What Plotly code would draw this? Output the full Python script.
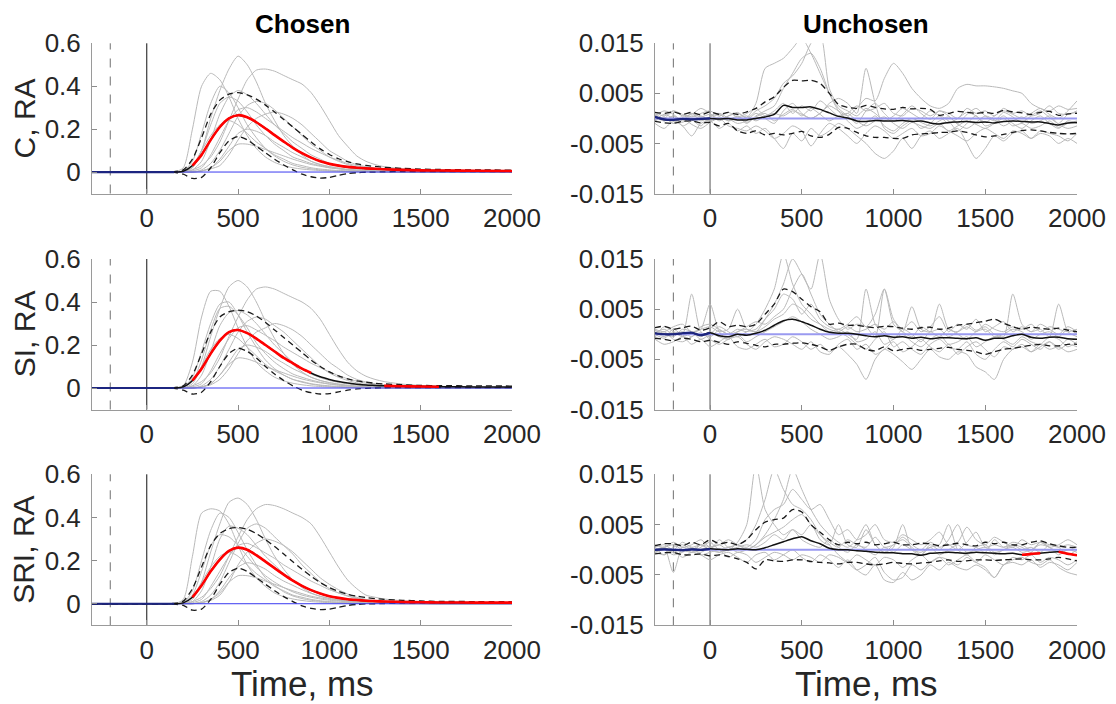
import plotly.graph_objects as go

# ---------------- time grids (ms) ----------------
T_CHOSEN = [-300, -200, -100, 0, 100, 150] + list(range(200, 1301, 50)) + [1400, 1500, 1600, 1800, 2000]
T_UNCHOSEN = list(range(-300, 2001, 50))
EVENT_TIMES = [-200, 0]          # dashed cue line, solid onset line
X_TICKS = [0, 500, 1000, 1500, 2000]
Y_TICKS_CH = [0, 0.2, 0.4, 0.6]
Y_TICKS_UN = [-0.015, -0.005, 0.005, 0.015]
Y_TICKTEXT_UN = ["-0.015", "-0.005", "0.005", "0.015"]
ROW_LABELS = ["C, RA", "SI, RA", "SRI, RA"]
COL_TITLES = ["Chosen", "Unchosen"]
UN_SCALE = 1e-3                  # unchosen arrays are written in units of 1e-3

# ---------------- Chosen, C ----------------
C_CH_MEAN = [0,0,0,0,0,0, 0.004,0.03,0.08,0.15,0.21,0.25, 0.265,0.255,0.232,0.203,0.172,0.142,
             0.113,0.088,0.067,0.05,0.038,0.03, 0.024,0.02,0.017,0.015,0.013, 0.01,0.008,0.007,0.006,0.005]
C_CH_UP = [0,0,0,0,0,0.002, 0.01,0.06,0.16,0.27,0.335,0.363, 0.37,0.36,0.34,0.312,0.28,0.245,
           0.21,0.175,0.14,0.108,0.082,0.062, 0.048,0.038,0.031,0.026,0.022, 0.017,0.014,0.012,0.01,0.009]
C_CH_LO = [0,0,0,0,0,-0.002, -0.01,-0.03,-0.025,0.02,0.09,0.145, 0.165,0.15,0.12,0.09,0.06,0.033,
           0.01,-0.01,-0.022,-0.028,-0.025,-0.015, -0.007,-0.003,-0.001,0,0.001, 0.002,0.002,0.002,0.002,0.002]
C_CH_SIG = [(250, 2000)]
C_CH_SUBJ = [
    [0,0,0,0,0,0, 0.02,0.2,0.4,0.46,0.43,0.35, 0.25,0.17,0.11,0.07,0.045,0.03, 0.02,0.014,0.01,0.007,0.005,0.004, 0.003,0.002,0.002,0.001,0.001, 0,0,0,0,0],
    [0,0,0,0,0,0, 0,0.02,0.1,0.25,0.38,0.48, 0.54,0.5,0.42,0.32,0.24,0.17, 0.12,0.08,0.05,0.035,0.025,0.018, 0.012,0.009,0.006,0.004,0.003, 0.002,0.001,0,0,0],
    [0,0,0,0,0,0, 0,0.01,0.03,0.07,0.14,0.24, 0.34,0.43,0.475,0.48,0.47,0.45, 0.43,0.41,0.37,0.31,0.24,0.17, 0.12,0.075,0.05,0.035,0.025, 0.015,0.01,0.007,0.004,0.003],
    [0,0,0,0,0,0, 0.005,0.05,0.18,0.32,0.4,0.37, 0.3,0.22,0.16,0.11,0.075,0.05, 0.033,0.022,0.015,0.01,0.007,0.005, 0.004,0.003,0.002,0.002,0.001, 0,0,0,0,0],
    [0,0,0,0,0,0, 0,0.01,0.05,0.15,0.27,0.35, 0.38,0.36,0.32,0.27,0.22,0.18, 0.14,0.11,0.08,0.06,0.04,0.03, 0.02,0.014,0.01,0.007,0.005, 0.003,0.002,0.001,0,0],
    [0,0,0,0,0,0, 0,0,0.01,0.04,0.1,0.18, 0.26,0.31,0.33,0.32,0.29,0.25, 0.21,0.17,0.13,0.1,0.07,0.05, 0.035,0.024,0.016,0.011,0.008, 0.004,0.002,0.001,0,0],
    [0,0,0,0,0,0, 0.003,0.03,0.1,0.17,0.22,0.24, 0.22,0.18,0.14,0.11,0.08,0.06, 0.04,0.03,0.02,0.014,0.01,0.007, 0.005,0.004,0.003,0.002,0.001, 0,0,0,0,0],
    [0,0,0,0,0,0, 0,0,0.005,0.02,0.06,0.12, 0.18,0.2,0.19,0.17,0.14,0.115, 0.09,0.07,0.05,0.035,0.025,0.018, 0.012,0.008,0.006,0.004,0.003, 0.002,0.001,0,0,0],
    [0,0,0,0,0,0, 0,0,0.005,0.02,0.05,0.1, 0.13,0.13,0.12,0.105,0.09,0.075, 0.06,0.047,0.035,0.027,0.02,0.015, 0.011,0.008,0.006,0.004,0.003, 0.002,0.001,0,0,0],
    [0,0,0,0,0,0, 0,0,0.005,0.015,0.03,0.08, 0.15,0.21,0.25,0.27,0.28,0.27, 0.25,0.22,0.18,0.14,0.1,0.075, 0.05,0.035,0.025,0.018,0.012, 0.006,0.003,0.002,0.001,0],
    [0,0,0,0,0,0, 0.005,0.02,0.1,0.22,0.32,0.35, 0.33,0.28,0.22,0.17,0.13,0.1, 0.07,0.055,0.04,0.03,0.02,0.015, 0.01,0.007,0.005,0.004,0.003, 0.002,0.001,0,0,0],
    [0,0,0,0,0,0, 0,0.005,0.02,0.08,0.16,0.24, 0.29,0.3,0.28,0.25,0.22,0.19, 0.16,0.135,0.11,0.09,0.07,0.055, 0.04,0.03,0.02,0.015,0.01, 0.006,0.004,0.003,0.002,0.001],
]

# ---------------- Chosen, SI ----------------
SI_CH_MEAN = [0,0,0,0,0,0, 0.005,0.035,0.09,0.16,0.22,0.26, 0.27,0.255,0.23,0.2,0.17,0.14,
              0.115,0.09,0.07,0.052,0.04,0.03, 0.023,0.018,0.014,0.012,0.01, 0.008,0.007,0.006,0.005,0.005]
SI_CH_UP = [0,0,0,0,0,0.002, 0.01,0.06,0.16,0.26,0.33,0.355, 0.362,0.355,0.335,0.305,0.27,0.235,
            0.2,0.165,0.13,0.1,0.075,0.056, 0.042,0.033,0.027,0.022,0.019, 0.015,0.012,0.011,0.01,0.009]
SI_CH_LO = [0,0,0,0,0,-0.002, -0.01,-0.028,-0.02,0.03,0.1,0.16, 0.185,0.17,0.14,0.1,0.065,0.035,
            0.01,-0.01,-0.022,-0.028,-0.026,-0.018, -0.01,-0.004,-0.002,0,0.001, 0.002,0.002,0.002,0.002,0.002]
SI_CH_SIG = [(250, 900), (1300, 1600)]
SI_CH_SUBJ = [
    [0,0,0,0,0,0, 0.01,0.12,0.33,0.45,0.45,0.38, 0.28,0.19,0.12,0.08,0.05,0.033, 0.022,0.015,0.01,0.007,0.005,0.004, 0.003,0.002,0.002,0.001,0.001, 0,0,0,0,0],
    [0,0,0,0,0,0, 0,0.02,0.1,0.24,0.37,0.47, 0.5,0.47,0.4,0.31,0.23,0.16, 0.11,0.075,0.05,0.035,0.025,0.018, 0.012,0.009,0.006,0.004,0.003, 0.002,0.001,0,0,0],
    [0,0,0,0,0,0, 0,0.01,0.03,0.07,0.14,0.24, 0.33,0.41,0.46,0.47,0.46,0.44, 0.42,0.4,0.37,0.32,0.25,0.18, 0.12,0.08,0.055,0.04,0.03, 0.018,0.012,0.008,0.005,0.003],
    [0,0,0,0,0,0, 0.005,0.05,0.17,0.3,0.39,0.4, 0.34,0.26,0.19,0.13,0.09,0.06, 0.04,0.027,0.018,0.012,0.008,0.006, 0.004,0.003,0.002,0.002,0.001, 0,0,0,0,0],
    [0,0,0,0,0,0, 0,0.01,0.06,0.17,0.29,0.35, 0.36,0.34,0.3,0.25,0.2,0.16, 0.12,0.09,0.065,0.048,0.035,0.026, 0.019,0.014,0.01,0.007,0.005, 0.003,0.002,0.001,0,0],
    [0,0,0,0,0,0, 0,0,0.01,0.04,0.1,0.18, 0.26,0.31,0.33,0.32,0.29,0.26, 0.22,0.18,0.14,0.1,0.07,0.05, 0.035,0.024,0.016,0.011,0.008, 0.004,0.002,0.001,0,0],
    [0,0,0,0,0,0, 0.003,0.03,0.1,0.18,0.23,0.25, 0.23,0.19,0.15,0.11,0.08,0.06, 0.04,0.03,0.02,0.014,0.01,0.007, 0.005,0.004,0.003,0.002,0.001, 0,0,0,0,0],
    [0,0,0,0,0,0, 0,0,0.005,0.02,0.06,0.12, 0.18,0.2,0.19,0.17,0.14,0.115, 0.09,0.07,0.05,0.035,0.025,0.018, 0.012,0.008,0.006,0.004,0.003, 0.002,0.001,0,0,0],
    [0,0,0,0,0,0, 0,0,0.005,0.02,0.06,0.11, 0.14,0.135,0.12,0.1,0.085,0.07, 0.055,0.042,0.032,0.024,0.018,0.013, 0.01,0.007,0.005,0.004,0.003, 0.002,0.001,0,0,0],
    [0,0,0,0,0,0, 0,0,0.005,0.015,0.04,0.09, 0.16,0.22,0.26,0.28,0.3,0.29, 0.27,0.24,0.2,0.16,0.12,0.09, 0.06,0.04,0.028,0.02,0.014, 0.007,0.004,0.002,0.001,0],
    [0,0,0,0,0,0, 0.005,0.03,0.13,0.27,0.37,0.38, 0.34,0.28,0.21,0.16,0.12,0.09, 0.065,0.05,0.037,0.027,0.019,0.014, 0.01,0.007,0.005,0.004,0.003, 0.002,0.001,0,0,0],
    [0,0,0,0,0,0, 0,0.005,0.02,0.08,0.16,0.23, 0.28,0.29,0.27,0.245,0.22,0.19, 0.165,0.14,0.115,0.095,0.075,0.058, 0.043,0.032,0.022,0.016,0.011, 0.006,0.004,0.003,0.002,0.001],
]

# ---------------- Chosen, SRI ----------------
SRI_CH_MEAN = [0,0,0,0,0,0, 0.004,0.03,0.085,0.15,0.205,0.245, 0.26,0.25,0.225,0.195,0.165,0.135,
               0.107,0.083,0.063,0.047,0.035,0.027, 0.021,0.017,0.014,0.012,0.01, 0.008,0.007,0.006,0.005,0.005]
SRI_CH_UP = [0,0,0,0,0,0.002, 0.012,0.07,0.17,0.27,0.325,0.348, 0.353,0.345,0.325,0.297,0.265,0.23,
             0.195,0.16,0.127,0.098,0.075,0.057, 0.044,0.035,0.029,0.024,0.02, 0.016,0.013,0.011,0.01,0.009]
SRI_CH_LO = [0,0,0,0,0,-0.002, -0.008,-0.03,-0.025,0.02,0.09,0.145, 0.165,0.15,0.12,0.09,0.06,0.033,
             0.01,-0.01,-0.022,-0.027,-0.025,-0.017, -0.008,-0.003,-0.001,0,0.001, 0.002,0.002,0.002,0.002,0.002]
SRI_CH_SIG = [(250, 2000)]
SRI_CH_SUBJ = [
    [0,0,0,0,0,0, 0.02,0.22,0.42,0.44,0.43,0.37, 0.27,0.18,0.12,0.08,0.05,0.033, 0.022,0.015,0.01,0.007,0.005,0.004, 0.003,0.002,0.002,0.001,0.001, 0,0,0,0,0],
    [0,0,0,0,0,0, 0,0.02,0.1,0.24,0.37,0.47, 0.49,0.46,0.39,0.3,0.22,0.16, 0.11,0.075,0.05,0.035,0.025,0.018, 0.012,0.009,0.006,0.004,0.003, 0.002,0.001,0,0,0],
    [0,0,0,0,0,0, 0,0.01,0.03,0.07,0.13,0.22, 0.31,0.39,0.44,0.46,0.455,0.44, 0.42,0.4,0.37,0.31,0.24,0.17, 0.11,0.07,0.04,0.03,0.022, 0.014,0.01,0.007,0.005,0.003],
    [0,0,0,0,0,0, 0.005,0.06,0.2,0.34,0.42,0.4, 0.33,0.25,0.18,0.12,0.085,0.055, 0.036,0.024,0.016,0.011,0.008,0.006, 0.004,0.003,0.002,0.002,0.001, 0,0,0,0,0],
    [0,0,0,0,0,0, 0,0.01,0.06,0.17,0.3,0.36, 0.35,0.32,0.27,0.22,0.18,0.14, 0.11,0.08,0.06,0.045,0.033,0.024, 0.018,0.013,0.009,0.007,0.005, 0.003,0.002,0.001,0,0],
    [0,0,0,0,0,0, 0,0,0.01,0.04,0.1,0.19, 0.28,0.35,0.37,0.35,0.31,0.27, 0.23,0.18,0.14,0.1,0.07,0.05, 0.035,0.024,0.016,0.011,0.008, 0.004,0.002,0.001,0,0],
    [0,0,0,0,0,0, 0.003,0.03,0.1,0.17,0.22,0.24, 0.22,0.18,0.14,0.11,0.08,0.06, 0.04,0.03,0.02,0.014,0.01,0.007, 0.005,0.004,0.003,0.002,0.001, 0,0,0,0,0],
    [0,0,0,0,0,0, 0,0,0.005,0.02,0.06,0.12, 0.17,0.19,0.18,0.16,0.13,0.105, 0.085,0.065,0.048,0.034,0.024,0.017, 0.012,0.008,0.006,0.004,0.003, 0.002,0.001,0,0,0],
    [0,0,0,0,0,0, 0,0,0.005,0.02,0.05,0.1, 0.13,0.13,0.12,0.105,0.09,0.075, 0.06,0.047,0.035,0.027,0.02,0.015, 0.011,0.008,0.006,0.004,0.003, 0.002,0.001,0,0,0],
    [0,0,0,0,0,0, 0,0,0.005,0.015,0.04,0.1, 0.18,0.24,0.28,0.3,0.29,0.27, 0.24,0.2,0.16,0.12,0.09,0.065, 0.045,0.03,0.02,0.014,0.01, 0.005,0.003,0.002,0.001,0],
    [0,0,0,0,0,0, 0.005,0.04,0.15,0.27,0.32,0.31, 0.27,0.22,0.17,0.13,0.1,0.075, 0.055,0.04,0.03,0.022,0.016,0.012, 0.009,0.006,0.005,0.004,0.003, 0.002,0.001,0,0,0],
    [0,0,0,0,0,0, 0,0.005,0.02,0.08,0.15,0.22, 0.27,0.28,0.26,0.235,0.21,0.18, 0.155,0.13,0.105,0.085,0.065,0.05, 0.037,0.027,0.019,0.014,0.01, 0.006,0.004,0.003,0.002,0.001],
]

# ---------------- Unchosen, C (x 1e-3) ----------------
C_UN_MEAN = [0.3,-0.2,-0.3,-0.1,-0.2,-0.1,0.0,-0.1,0.0,-0.3,
             -0.3,0.0,0.3,0.8,2.6,2.2,2.2,2.3,1.8,1.1,
             0.4,0.1,-0.5,-0.6,-0.4,-0.5,-0.5,-0.4,-0.6,-0.5,
             -0.9,-1.1,-0.8,-0.7,-0.6,-0.8,-0.7,-0.9,-0.6,-0.5,
             -0.6,-0.7,-0.7,-1.0,-1.3,-0.9,-0.8]
C_UN_UP = [1.2,1.0,1.3,0.8,1.2,0.7,1.3,0.8,1.2,0.8,
           1.3,2.0,3.3,4.3,6.2,7.6,7.5,7.6,7.0,5.0,
           2.8,2.2,2.0,2.6,2.2,1.9,1.8,2.2,1.9,2.0,
           1.8,0.6,1.0,1.4,1.2,1.0,1.2,1.0,1.6,1.3,
           1.1,0.8,1.2,1.4,0.6,0.9,1.0]
C_UN_LO = [-0.6,-0.9,-1.0,-0.6,-0.5,-0.9,-0.8,-1.5,-1.0,-2.5,
           -3.0,-2.5,-3.3,-3.0,-3.3,-3.0,-2.6,-3.5,-3.8,-3.2,
           -1.8,-2.0,-2.8,-3.5,-3.8,-3.8,-4.0,-4.0,-3.3,-3.1,
           -3.0,-2.8,-2.8,-2.5,-2.8,-3.3,-3.7,-3.5,-3.2,-2.8,
           -2.4,-2.3,-2.5,-2.8,-3.0,-3.1,-3.0]
C_UN_SIG = []
C_UN_SUBJ = [
    [0.5,1.5,0.8,-0.5,1.0,0.3,0.8,-0.3,0.5,1.0, 0.2,3.0,10.0,11.0,12.0,14.0,16.0,13.0,9.0,5.0,
     2.0,0.5,-1.0,1.5,3.0,1.0,-0.5,0.8,2.5,1.0, -0.2,1.5,0.5,-1.0,0.8,2.0,0.5,-0.5,1.2,0.3, -0.8,0.5,1.5,0.2,-1.0,0.8,1.2],
    [-0.5,0.3,-1.0,0.5,-0.2,-1.5,0.5,1.0,-0.5,0.3, -1.0,0.5,1.5,2.5,6.0,9.0,12.0,13.0,10.0,5.0,
     1.5,-0.5,-2.0,-1.0,0.5,-1.5,-2.5,-1.0,0.0,-0.8, -1.5,-0.5,0.3,-1.2,-2.0,-0.8,0.5,-0.3,-1.5,-0.5, 0.3,-1.0,-0.5,0.5,-1.2,-2.0,-1.5],
    [1.0,0.0,1.5,0.5,0.8,2.0,1.0,-0.5,0.5,1.2, 0.0,1.5,2.5,4.0,7.0,8.5,11.0,15.0,17.0,6.0,
     2.5,1.5,0.5,2.0,1.0,-0.5,0.5,2.0,1.0,0.0, 1.5,0.5,-1.0,0.0,1.2,0.5,-0.8,0.5,1.5,0.8, 0.0,1.0,2.0,0.8,0.0,1.5,3.5],
    [-0.3,0.8,0.0,-0.8,0.5,0.0,-0.5,0.3,-0.5,0.0, 0.5,-0.5,0.5,1.0,0.5,1.5,0.8,0.0,1.0,2.5,
     1.5,0.5,2.0,4.0,3.5,8.0,11.0,9.0,6.0,4.0, 2.5,2.0,3.0,6.0,6.8,6.5,6.5,6.3,6.0,5.5, 5.0,3.0,2.0,1.5,2.5,1.8,2.0],
    [0.8,-0.5,0.5,-1.5,-0.5,0.5,-0.3,1.0,0.0,-1.0, -0.5,1.0,0.0,-1.0,1.5,3.0,1.0,0.0,1.0,3.0,
     4.0,3.0,1.0,10.0,3.0,-2.0,-3.0,-1.5,-0.5,-2.0, -1.0,0.5,-0.5,-2.5,-1.0,0.5,-1.5,-0.8,0.5,-1.0, -2.0,-0.5,0.5,-1.0,-2.0,-0.5,-1.0],
    [-1.0,-2.0,-0.5,-1.5,-3.5,-1.0,-0.5,-2.0,-1.0,-2.5, -1.5,-3.0,-2.0,-4.0,-6.0,-3.0,-4.5,-2.0,-3.5,-2.5,
     -1.0,-2.0,-3.5,-5.0,-7.0,-8.0,-6.5,-4.0,-6.0,-3.5, -2.5,-4.0,-3.0,-2.0,-5.0,-8.0,-6.0,-3.5,-4.5,-3.0, -2.5,-4.0,-3.0,-3.5,-5.0,-4.0,-5.0],
    [0.3,-0.5,0.5,-0.3,1.0,-0.5,0.3,0.8,-0.3,0.5, -0.8,0.3,1.0,-0.5,0.8,1.8,0.5,2.0,0.8,-0.5,
     0.5,1.0,-0.5,-1.5,-0.5,0.3,-1.0,-2.0,-0.8,-1.5, -2.0,-1.0,-2.5,-1.5,-0.5,-1.2,-2.0,-1.0,0.0,-1.5, -1.0,-2.0,-1.5,-0.5,-1.8,-1.0,-0.5],
    [-0.5,0.2,-1.0,0.0,-1.2,-2.0,-0.8,0.0,-1.5,-2.0, -2.5,-1.5,-2.5,-4.0,-3.0,-1.5,-2.5,-5.5,-3.0,-1.0,
     -2.0,-3.5,-5.0,-3.0,-1.5,-2.5,-4.0,-3.0,-2.0,-3.5, -3.0,-1.5,-2.5,-3.5,-4.5,-3.0,-2.0,-3.0,-4.0,-2.5, -3.0,-4.0,-2.5,-3.0,-3.5,-4.5,-3.0],
    [1.2,0.5,1.5,0.8,0.3,1.0,1.5,0.5,1.2,0.3, 1.0,2.0,0.5,1.5,3.0,1.0,2.5,1.5,3.5,2.0,
     0.5,1.0,2.5,1.5,2.0,3.0,1.0,0.5,2.0,1.5, 0.5,1.5,1.0,0.0,2.0,1.0,1.5,0.5,2.0,1.0, 1.5,0.5,1.0,2.5,1.0,0.8,1.5],
]

# ---------------- Unchosen, SI (x 1e-3) ----------------
SI_UN_MEAN = [0.2,0.0,0.0,0.2,0.3,-0.2,0.3,-0.3,-0.5,0.0,
              -0.2,0.2,0.8,1.8,2.7,3.0,2.5,1.8,1.0,0.4,
              0.2,0.2,0.0,-0.3,-0.5,-0.3,-0.6,-0.5,-0.8,-0.6,
              -0.9,-0.7,-0.7,-0.8,-0.9,-0.7,-1.2,-0.8,-0.8,-0.3,
              0.0,-0.6,-0.8,-0.6,-0.6,-0.9,-1.0]
SI_UN_UP = [1.3,1.6,1.0,1.3,1.6,0.8,1.3,2.5,1.5,1.8,
            1.5,2.0,4.0,6.0,9.0,8.5,7.0,5.5,4.5,2.0,
            2.2,1.8,1.8,1.5,1.3,1.6,1.5,1.2,1.0,1.3,
            1.4,1.0,1.2,1.8,2.0,2.3,2.6,3.0,2.2,1.5,
            1.0,1.4,1.2,1.0,1.2,0.8,0.5]
SI_UN_LO = [-0.8,-1.0,-1.3,-0.8,-1.0,-1.5,-1.2,-1.6,-2.0,-1.5,
            -1.8,-2.2,-2.5,-2.0,-2.0,-1.8,-1.7,-2.0,-2.5,-3.2,
            -2.5,-2.0,-2.0,-3.0,-3.3,-2.5,-3.3,-3.0,-2.8,-3.2,
            -3.0,-2.8,-2.6,-3.0,-3.2,-3.5,-4.0,-3.5,-3.0,-2.8,
            -2.5,-2.2,-2.0,-2.3,-2.3,-2.0,-2.0]
SI_UN_SIG = []
SI_UN_SUBJ = [
    [0.5,-0.5,1.0,0.0,8.0,0.5,-0.5,0.8,0.0,1.0, 0.5,2.0,5.0,9.0,16.0,10.0,6.0,4.0,2.0,0.5,
     1.0,0.0,-1.0,9.0,2.0,0.0,-1.0,1.0,0.0,-1.5, 0.5,-0.5,1.0,0.0,-1.0,0.5,1.0,-0.5,0.0,1.0, 0.5,-1.0,0.0,0.5,-0.5,1.0,0.0],
    [-0.5,1.5,0.5,-0.5,0.3,1.0,6.0,0.5,-1.0,0.5, 1.0,0.5,3.0,6.0,10.0,15.0,12.0,9.0,16.0,7.0,
     3.0,1.0,2.0,1.5,-0.5,9.0,2.0,0.5,-0.5,1.5, 0.5,1.0,-0.5,0.5,2.0,0.8,1.5,0.0,-0.5,8.0, 2.0,0.5,1.0,-0.5,6.0,0.5,-0.5],
    [-1.0,-2.0,-1.5,-0.5,-2.0,-1.0,-2.5,-1.5,-0.5,-2.5, -3.0,-2.0,-1.0,-2.5,-2.0,-0.5,-1.5,-3.0,-2.0,-3.5,
     -2.5,-4.0,-6.0,-9.0,-5.0,-3.0,-4.0,-5.5,-7.0,-5.0, -3.0,-4.5,-5.0,-3.5,-4.0,-6.5,-7.5,-9.0,-5.0,-3.0, -2.5,-3.5,-2.0,-3.0,-2.5,-3.5,-3.0],
    [1.0,0.5,1.5,2.0,0.5,1.0,1.5,0.5,1.0,5.0, 1.0,0.5,1.5,3.0,4.0,6.0,5.0,3.0,2.0,1.0,
     0.5,1.5,0.5,1.0,2.0,1.0,2.5,0.5,5.5,1.0, 0.5,6.0,1.0,0.5,1.5,0.5,2.0,1.0,0.5,1.5, 1.0,2.0,0.5,1.5,1.0,0.5,1.0],
    [0.0,-0.8,0.5,-0.3,0.3,-0.5,0.5,-0.5,-1.0,0.0, -1.5,-0.5,0.5,1.5,2.5,3.5,2.5,1.0,0.0,-1.0,
     -0.5,0.5,-1.5,-1.0,0.5,-2.0,-1.0,0.0,-1.5,-2.5, -1.0,0.0,-2.0,-1.5,-0.5,-2.5,-1.5,-0.5,-1.0,-2.0, -0.5,-1.5,-2.0,-0.5,-1.0,-2.5,-1.5],
    [-0.5,0.5,-1.0,-1.5,-0.5,0.3,-1.0,-2.0,-1.0,-0.5, -2.0,-3.0,-1.5,-0.5,-1.0,-2.0,-3.0,-1.5,-3.5,-4.0,
     -2.0,-1.0,-3.0,-2.0,-4.0,-3.0,-1.5,-3.5,-2.5,-1.0, -2.5,-3.5,-2.0,-4.0,-2.5,-1.5,-3.0,-4.5,-2.5,-3.0, -2.0,-3.5,-2.5,-1.5,-3.0,-2.0,-2.5],
    [0.8,0.0,-0.5,1.0,0.5,-1.0,0.0,1.5,0.5,-0.5, 0.5,1.0,3.0,5.0,8.0,7.0,4.0,6.0,3.0,1.5,
     1.0,2.0,3.5,1.5,4.0,9.0,3.0,1.0,2.5,0.5, 1.5,3.5,0.5,2.0,1.0,3.0,0.5,1.5,2.5,0.5, 1.5,0.5,2.0,1.0,0.0,1.5,0.5],
    [0.3,1.0,0.0,0.5,-0.5,1.5,2.0,1.0,0.0,0.5, 1.5,2.5,2.0,3.5,5.0,9.0,12.0,8.0,4.0,2.0,
     0.5,-0.5,-2.0,-3.0,-1.0,0.5,-2.5,-1.5,-3.0,-4.0, -2.0,-1.0,-2.5,-3.0,-1.5,-4.0,-5.0,-3.0,-1.5,-2.5, -1.0,-2.0,-3.0,-1.5,-2.5,-1.0,-2.0],
]

# ---------------- Unchosen, SRI (x 1e-3) ----------------
SRI_UN_MEAN = [0.0,0.1,0.0,-0.1,0.1,0.0,0.2,0.1,0.0,0.2,
               0.1,0.0,0.4,1.0,1.6,2.2,2.6,1.8,1.2,0.3,
               0.0,0.0,-0.2,-0.3,-0.5,-0.6,-0.6,-0.8,-0.8,-1.1,
               -0.7,-0.6,-0.5,-0.6,-0.7,-0.5,-0.6,-0.7,-0.8,-0.7,
               -1.0,-0.8,-0.7,-0.5,-0.4,-0.8,-1.1]
SRI_UN_UP = [0.8,1.2,1.2,0.8,1.5,1.0,2.0,1.2,1.5,1.0,
             2.0,4.0,5.5,6.0,6.3,8.0,7.5,5.0,3.5,2.0,
             1.0,1.5,1.2,1.5,1.0,1.2,1.5,1.0,1.0,1.3,
             1.2,0.8,1.0,1.3,1.0,0.8,1.5,1.2,1.5,1.0,
             1.0,1.5,1.8,1.2,0.8,0.5,0.5]
SRI_UN_LO = [-0.8,-0.6,-0.5,-1.0,-1.0,-0.8,-1.2,-1.0,-1.3,-1.8,
             -2.5,-3.8,-2.0,-2.2,-2.3,-2.0,-2.0,-2.3,-2.5,-2.6,
             -2.8,-2.5,-2.5,-2.8,-3.0,-2.8,-2.5,-2.7,-2.8,-2.6,
             -2.5,-2.2,-2.0,-2.3,-2.2,-2.0,-2.0,-2.1,-2.0,-1.9,
             -1.8,-2.0,-2.0,-1.8,-1.5,-1.8,-2.2]
SRI_UN_SIG = [(1700, 1800), (1900, 2000)]
SRI_UN_SUBJ = [
    [0.5,-1.0,0.5,1.0,0.0,-0.5,0.5,1.0,0.0,1.5, 5.0,17.0,8.0,5.0,3.0,4.0,2.0,1.0,0.5,2.0,
     0.5,-0.5,1.0,0.0,-1.0,0.5,-0.5,1.0,0.0,-0.5, 0.5,-1.0,0.0,1.0,-0.5,0.0,0.5,-1.0,0.0,0.5, -0.5,0.0,1.0,0.5,-0.5,0.0,0.5],
    [-0.5,0.5,-4.5,0.5,-0.5,1.0,0.0,-0.5,0.5,1.0, 2.0,5.0,10.0,16.0,12.0,9.0,8.0,6.0,3.0,1.0,
     -1.0,-2.5,-4.0,-3.0,-1.5,-4.5,-6.0,-5.5,-3.0,-4.0, -2.5,-1.5,-3.0,-2.0,-1.0,-2.5,-3.5,-5.5,-3.0,-2.0, -1.5,-2.5,-3.0,-2.0,-3.5,-4.5,-5.0],
    [0.0,0.5,1.0,0.0,-0.5,0.5,1.5,0.0,0.5,-0.5, 0.0,1.0,3.0,6.0,10.0,16.0,12.0,8.0,5.0,3.0,
     1.5,0.5,2.0,5.0,1.0,-0.5,1.0,2.0,0.5,-1.0, 1.0,0.0,2.0,5.0,1.0,0.5,-0.5,2.0,0.5,1.0, 0.0,0.5,-0.5,1.0,0.5,-1.0,0.0],
    [1.0,0.5,1.5,0.5,1.0,2.0,0.5,1.0,2.0,1.0, 0.5,2.0,6.0,8.0,9.0,12.0,10.0,8.0,9.0,6.0,
     3.0,4.0,2.0,3.0,5.0,2.0,1.5,3.0,2.0,1.0, 2.0,3.5,1.0,1.5,4.5,2.0,1.0,2.5,1.5,0.5, 2.0,1.0,1.5,0.5,1.0,2.0,1.0],
    [-0.5,-1.0,0.0,-1.5,-0.5,-1.0,-2.0,-1.0,-0.5,-1.5, -2.5,-1.0,-0.5,-2.0,-1.0,0.0,-1.5,-2.5,-1.0,-2.0,
     -3.5,-2.0,-4.0,-5.0,-3.0,-6.0,-6.5,-4.5,-6.0,-5.0, -3.0,-4.0,-2.5,-3.5,-4.0,-3.0,-4.0,-5.5,-3.0,-2.5, -3.0,-2.0,-3.5,-2.5,-3.0,-4.0,-2.5],
    [0.5,1.0,0.0,1.5,0.5,1.0,0.0,2.0,0.5,1.0, 0.0,1.0,2.5,3.5,4.5,6.0,7.0,5.0,3.0,1.5,
     0.5,2.0,1.0,0.5,2.5,0.5,1.0,2.5,1.0,0.0, 1.5,0.5,1.0,0.0,1.5,3.5,0.5,1.0,0.5,1.5, 1.0,0.0,1.5,1.0,0.5,1.0,0.5],
    [-0.5,0.0,-1.0,-0.5,0.5,-1.0,-0.5,0.0,-1.5,-0.5, -1.0,-2.5,-1.5,-0.5,-1.0,-2.0,-1.0,-1.5,-2.5,-1.0,
     -1.5,-2.5,-1.0,-2.0,-3.0,-1.5,-2.0,-3.5,-2.0,-1.0, -2.5,-1.5,-2.0,-3.0,-1.5,-2.5,-1.0,-2.0,-3.0,-1.5, -2.0,-1.0,-2.5,-1.5,-2.0,-3.0,-2.0],
    [0.0,0.5,-0.5,0.5,0.0,1.0,0.5,-0.5,0.0,0.5, 1.0,0.5,1.5,3.0,2.0,4.0,3.0,5.0,2.0,1.0,
     5.0,1.0,0.5,4.0,1.0,-0.5,0.5,5.0,0.0,-1.0, 0.5,1.0,5.0,0.0,-1.0,0.5,1.0,-0.5,0.0,1.0, 0.5,-0.5,1.5,0.5,-1.0,0.0,-0.5],
]

# ---------------- figure ----------------
W, H = 1116, 704
FONT = "Liberation Sans, Arial, Helvetica, sans-serif"
COL_X = [(92 / W, 512 / W), (655 / W, 1077 / W)]
ROW_Y = [(1 - 193.5 / H, 1 - 43.3 / H), (1 - 409.5 / H, 1 - 259 / H), (1 - 625.3 / H, 1 - 474.3 / H)]

panels = [
    (0, 0, T_CHOSEN, C_CH_SUBJ, C_CH_UP, C_CH_LO, C_CH_MEAN, C_CH_SIG, 1.0),
    (0, 1, T_UNCHOSEN, C_UN_SUBJ, C_UN_UP, C_UN_LO, C_UN_MEAN, C_UN_SIG, UN_SCALE),
    (1, 0, T_CHOSEN, SI_CH_SUBJ, SI_CH_UP, SI_CH_LO, SI_CH_MEAN, SI_CH_SIG, 1.0),
    (1, 1, T_UNCHOSEN, SI_UN_SUBJ, SI_UN_UP, SI_UN_LO, SI_UN_MEAN, SI_UN_SIG, UN_SCALE),
    (2, 0, T_CHOSEN, SRI_CH_SUBJ, SRI_CH_UP, SRI_CH_LO, SRI_CH_MEAN, SRI_CH_SIG, 1.0),
    (2, 1, T_UNCHOSEN, SRI_UN_SUBJ, SRI_UN_UP, SRI_UN_LO, SRI_UN_MEAN, SRI_UN_SIG, UN_SCALE),
]

fig = go.Figure()
layout = {}
shapes = []
annotations = []

for k, (r, c, t, subj, up, lo, mean, sig, scale) in enumerate(panels, start=1):
    xa = "x" if k == 1 else f"x{k}"
    ya = "y" if k == 1 else f"y{k}"
    sc = lambda arr: [v * scale for v in arr]
    common = dict(xaxis=xa, yaxis=ya, mode="lines", hoverinfo="skip", showlegend=False)
    for s in subj:
        fig.add_trace(go.Scatter(x=t, y=sc(s), line=dict(color="#b9b9b9", width=1, shape="spline", smoothing=0.7), **common))
    for b in (up, lo):
        fig.add_trace(go.Scatter(x=t, y=sc(b), line=dict(color="#1a1a1a", width=1.3, dash="6px,4px", shape="spline", smoothing=0.7), **common))
    # zero reference line
    zcol, zw = ("#3a3af0", 1) if c == 0 else ("#9a9af0", 2)
    fig.add_trace(go.Scatter(x=[t[0], t[-1]], y=[0, 0], line=dict(color=zcol, width=zw), **common))
    fig.add_trace(go.Scatter(x=t, y=sc(mean), line=dict(color="#111111", width=1.5, shape="spline", smoothing=0.7), **common))
    # baseline portion (overlapping lines look navy)
    base_end = 150 if c == 0 else 0
    yb = [v * scale if tt <= base_end else None for tt, v in zip(t, mean)]
    fig.add_trace(go.Scatter(x=t, y=yb, line=dict(color="#1c2580", width=2.2, shape="spline", smoothing=0.7), **common))
    # significant segments in red
    for (a, b2) in sig:
        yr = [v * scale if a <= tt <= b2 else None for tt, v in zip(t, mean)]
        fig.add_trace(go.Scatter(x=t, y=yr, line=dict(color="#ff0000", width=2.6, shape="spline", smoothing=0.7), **common))

    key_x = "xaxis" if k == 1 else f"xaxis{k}"
    key_y = "yaxis" if k == 1 else f"yaxis{k}"
    layout[key_x] = dict(
        domain=list(COL_X[c]), anchor=ya, range=[T_CHOSEN[0], T_CHOSEN[-1]],
        tickmode="array", tickvals=X_TICKS, ticks="inside", ticklen=5, tickcolor="#8c8c8c",
        showline=True, linecolor="#9a9a9a", linewidth=1, showgrid=False, zeroline=False,
        tickfont=dict(family=FONT, size=26, color="#262626"), ticklabelstandoff=1,
        automargin=False, fixedrange=True,
    )
    if c == 0:
        ydict = dict(range=[-0.1, 0.6], tickvals=Y_TICKS_CH, ticktext=[str(v) for v in Y_TICKS_CH])
    else:
        ydict = dict(range=[-0.015, 0.015], tickvals=Y_TICKS_UN, ticktext=Y_TICKTEXT_UN)
    layout[key_y] = dict(
        domain=list(ROW_Y[r]), anchor=xa, tickmode="array", ticks="inside", ticklen=5, tickcolor="#8c8c8c",
        showline=True, linecolor="#9a9a9a", linewidth=1, showgrid=False, zeroline=False,
        tickfont=dict(family=FONT, size=26, color="#262626"), ticklabelstandoff=5,
        automargin=False, fixedrange=True, **ydict,
    )
    # event lines
    for ev in EVENT_TIMES:
        if ev == 0:
            lc, dash = ("#111111" if c == 0 else "#555555"), "solid"
        else:
            lc, dash = "#707070", "dash"
        shapes.append(dict(type="line", xref=xa, yref=f"{ya} domain", x0=ev, x1=ev, y0=0, y1=1,
                           line=dict(color=lc, width=1, dash=dash), layer="below"))

# row labels
for r, lab in enumerate(ROW_LABELS):
    annotations.append(dict(text=lab, x=24 / W, y=(ROW_Y[r][0] + ROW_Y[r][1]) / 2, xref="paper", yref="paper",
                            textangle=-90, showarrow=False, xanchor="center", yanchor="middle",
                            font=dict(family=FONT, size=30, color="#262626")))
# column titles and x labels
for c, title in enumerate(COL_TITLES):
    xc = (COL_X[c][0] + COL_X[c][1]) / 2
    annotations.append(dict(text=f"<b>{title}</b>", x=xc, y=1 - 24 / H, xref="paper", yref="paper",
                            showarrow=False, xanchor="center", yanchor="middle",
                            font=dict(family=FONT, size=26, color="#000000")))
    annotations.append(dict(text="Time, ms", x=xc, y=1 - 683 / H, xref="paper", yref="paper",
                            showarrow=False, xanchor="center", yanchor="middle",
                            font=dict(family=FONT, size=35, color="#262626")))

fig.update_layout(
    width=W, height=H, margin=dict(l=0, r=0, t=0, b=0),
    paper_bgcolor="white", plot_bgcolor="white",
    shapes=shapes, annotations=annotations, showlegend=False, **layout,
)
fig.write_html("out.html")
